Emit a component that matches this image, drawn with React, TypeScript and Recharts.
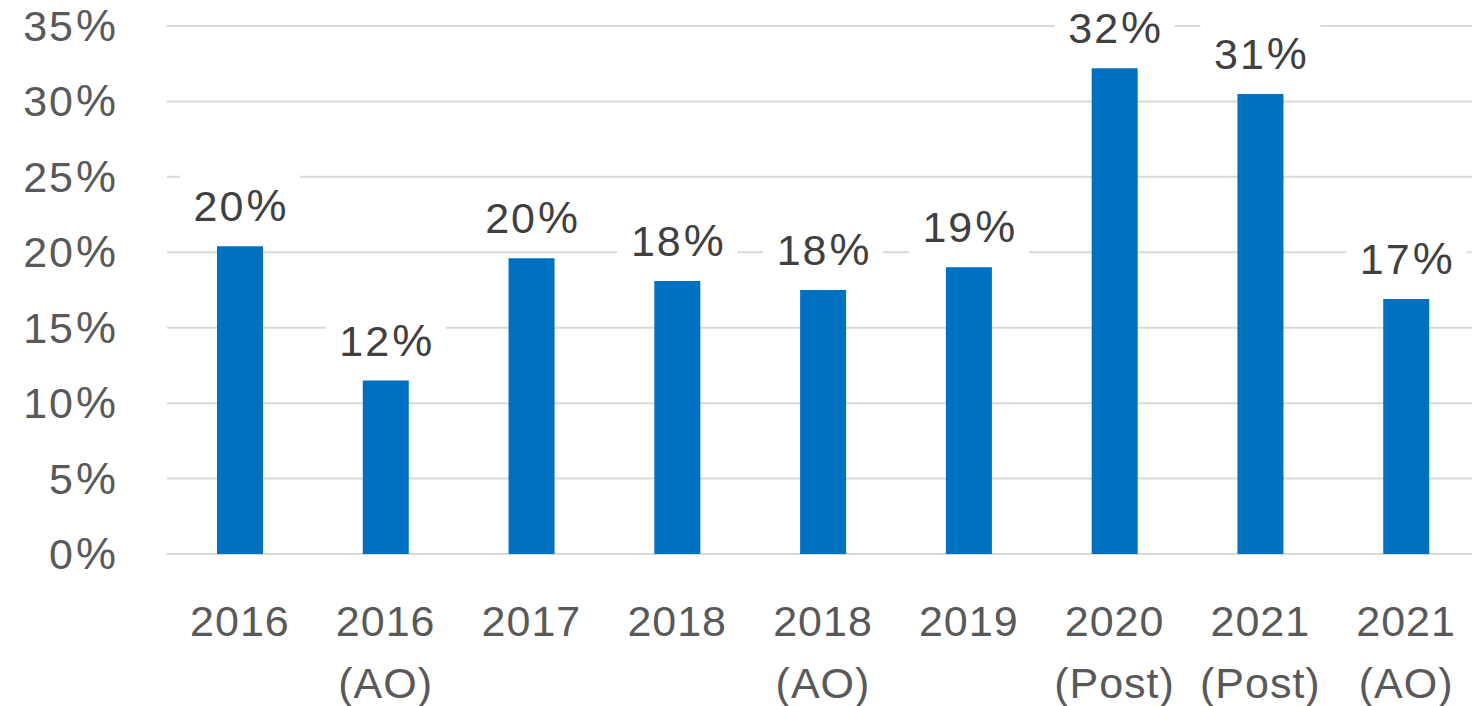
import React from 'react';
import { BarChart, Bar, XAxis, YAxis, CartesianGrid, LabelList } from 'recharts';

const categories = [
  '2016',
  '2016\n(AO)',
  '2017',
  '2018',
  '2018\n(AO)',
  '2019',
  '2020\n(Post)',
  '2021\n(Post)',
  '2021\n(AO)',
];
const shares = [20.4, 11.5, 19.6, 18.1, 17.5, 19.0, 32.2, 30.5, 16.9];
const shareLabels = ['20%', '12%', '20%', '18%', '18%', '19%', '32%', '31%', '17%'];
const yTicks = [0, 5, 10, 15, 20, 25, 30, 35];

const data = categories.map((name, i) => ({
  name,
  share: shares[i],
  label: shareLabels[i],
}));

const FONT = '"Liberation Sans", Arial, sans-serif';

// percent text with a slightly wider % sign, closer to the original's font
const PctText = ({ x, y, value, fill, anchor }: any) => {
  const num = String(value).replace('%', '');
  return (
    <text
      x={x}
      y={y}
      textAnchor={anchor}
      fill={fill}
      fontSize={43}
      fontFamily={FONT}
    >
      <tspan letterSpacing={2}>{num}</tspan>
      <tspan dx={1} fontSize={45}>
        %
      </tspan>
    </text>
  );
};

const CategoryTick = (props: any) => {
  const { x, y, payload } = props;
  const lines = String(payload.value).split('\n');
  return (
    <g>
      {lines.map((line: string, i: number) => (
        <text
          key={i}
          x={x}
          y={y + 82 + i * 62}
          textAnchor='middle'
          fill='#595959'
          fontSize={43}
          fontFamily={FONT}
          letterSpacing={1}
        >
          {line}
        </text>
      ))}
    </g>
  );
};

const ValueTick = (props: any) => {
  const { x, y, payload } = props;
  return (
    <PctText x={x} y={y + 15} value={`${payload.value}%`} fill='#595959' anchor='end' />
  );
};

const BoxedLabel = (props: any) => {
  const { x, y, width, value } = props;
  const cx = x + width / 2;
  const base = y - 25;
  return (
    <g>
      <rect x={cx - 60} y={base - 46} width={120} height={58} fill='#ffffff' />
      <PctText x={cx} y={base} value={value} fill='#404040' anchor='middle' />
    </g>
  );
};

export default function App() {
  return (
    <div
      style={{
        position: 'absolute',
        left: 0,
        top: 0,
        width: 1472,
        height: 706,
        overflow: 'hidden',
        background: '#ffffff',
      }}
    >
      <BarChart
        width={1479}
        height={706}
        data={data}
        margin={{ top: 26, right: 0, left: 0, bottom: 0 }}
        barCategoryGap={0}
      >
        <CartesianGrid vertical={false} stroke='#d9d9d9' strokeWidth={2} />
        <XAxis
          dataKey='name'
          axisLine={false}
          tickLine={false}
          tickSize={0}
          tickMargin={0}
          height={152}
          interval={0}
          tick={<CategoryTick />}
        />
        <YAxis
          domain={[0, 35]}
          ticks={yTicks}
          width={167}
          axisLine={false}
          tickLine={false}
          tickSize={0}
          tickMargin={51}
          tick={<ValueTick />}
          interval={0}
        />
        <Bar dataKey='share' fill='#0070c0' barSize={46} isAnimationActive={false}>
          <LabelList dataKey='label' content={<BoxedLabel />} />
        </Bar>
      </BarChart>
    </div>
  );
}
